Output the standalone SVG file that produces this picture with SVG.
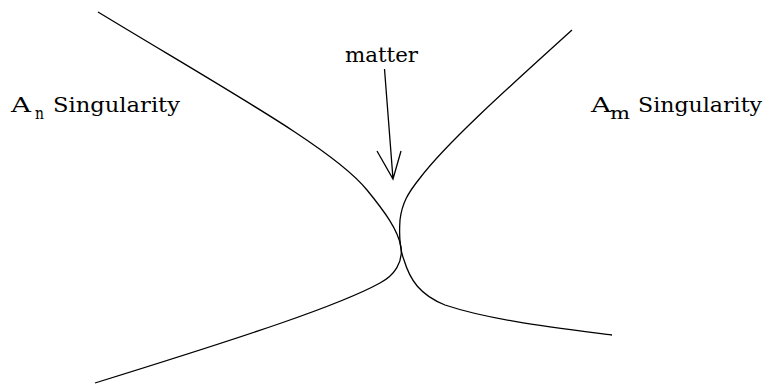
<svg xmlns="http://www.w3.org/2000/svg" width="770" height="388" viewBox="0 0 770 388">
<style>
.c{fill:none;stroke:#000;stroke-width:1.3}
.t{font-family:'DejaVu Serif',serif;fill:#000}
</style>
<rect width="770" height="388" fill="#fff"/>
<g id="connectors">
<path id="left-curve" class="c" d="M98,12 C230,92 335,150 367,190 C385,212 398,230 401,247 C403,262 395,275 380,283 C340,305 250,335 95,383"/>
<path id="right-curve" class="c" d="M572,30 C500,95 445,145 420,178 C408,193 402,203 400,220 C399,235 400,250 404,260 C410,280 420,295 445,305 C490,320 550,327 612,335"/>
<path id="arrow" class="c" d="M384.5,69 L393,179 M377,151 L393,179 L401,151"/>
</g>
<g id="matter-label">
<text class="t" x="345" y="62" font-size="21" textLength="73" lengthAdjust="spacingAndGlyphs">matter</text>
</g>
<g id="an-label">
<text class="t" x="11" y="112" font-size="20" textLength="20" lengthAdjust="spacingAndGlyphs">A</text>
<text class="t" x="35" y="119" font-size="17" textLength="9" lengthAdjust="spacingAndGlyphs">n</text>
<text class="t" x="53" y="112" font-size="20" textLength="127" lengthAdjust="spacingAndGlyphs">Singularity</text>
</g>
<g id="am-label">
<text class="t" x="591" y="112" font-size="20" textLength="20" lengthAdjust="spacingAndGlyphs">A</text>
<text class="t" x="610" y="119" font-size="17" textLength="20" lengthAdjust="spacingAndGlyphs">m</text>
<text class="t" x="638" y="112" font-size="20" textLength="124" lengthAdjust="spacingAndGlyphs">Singularity</text>
</g>
</svg>
